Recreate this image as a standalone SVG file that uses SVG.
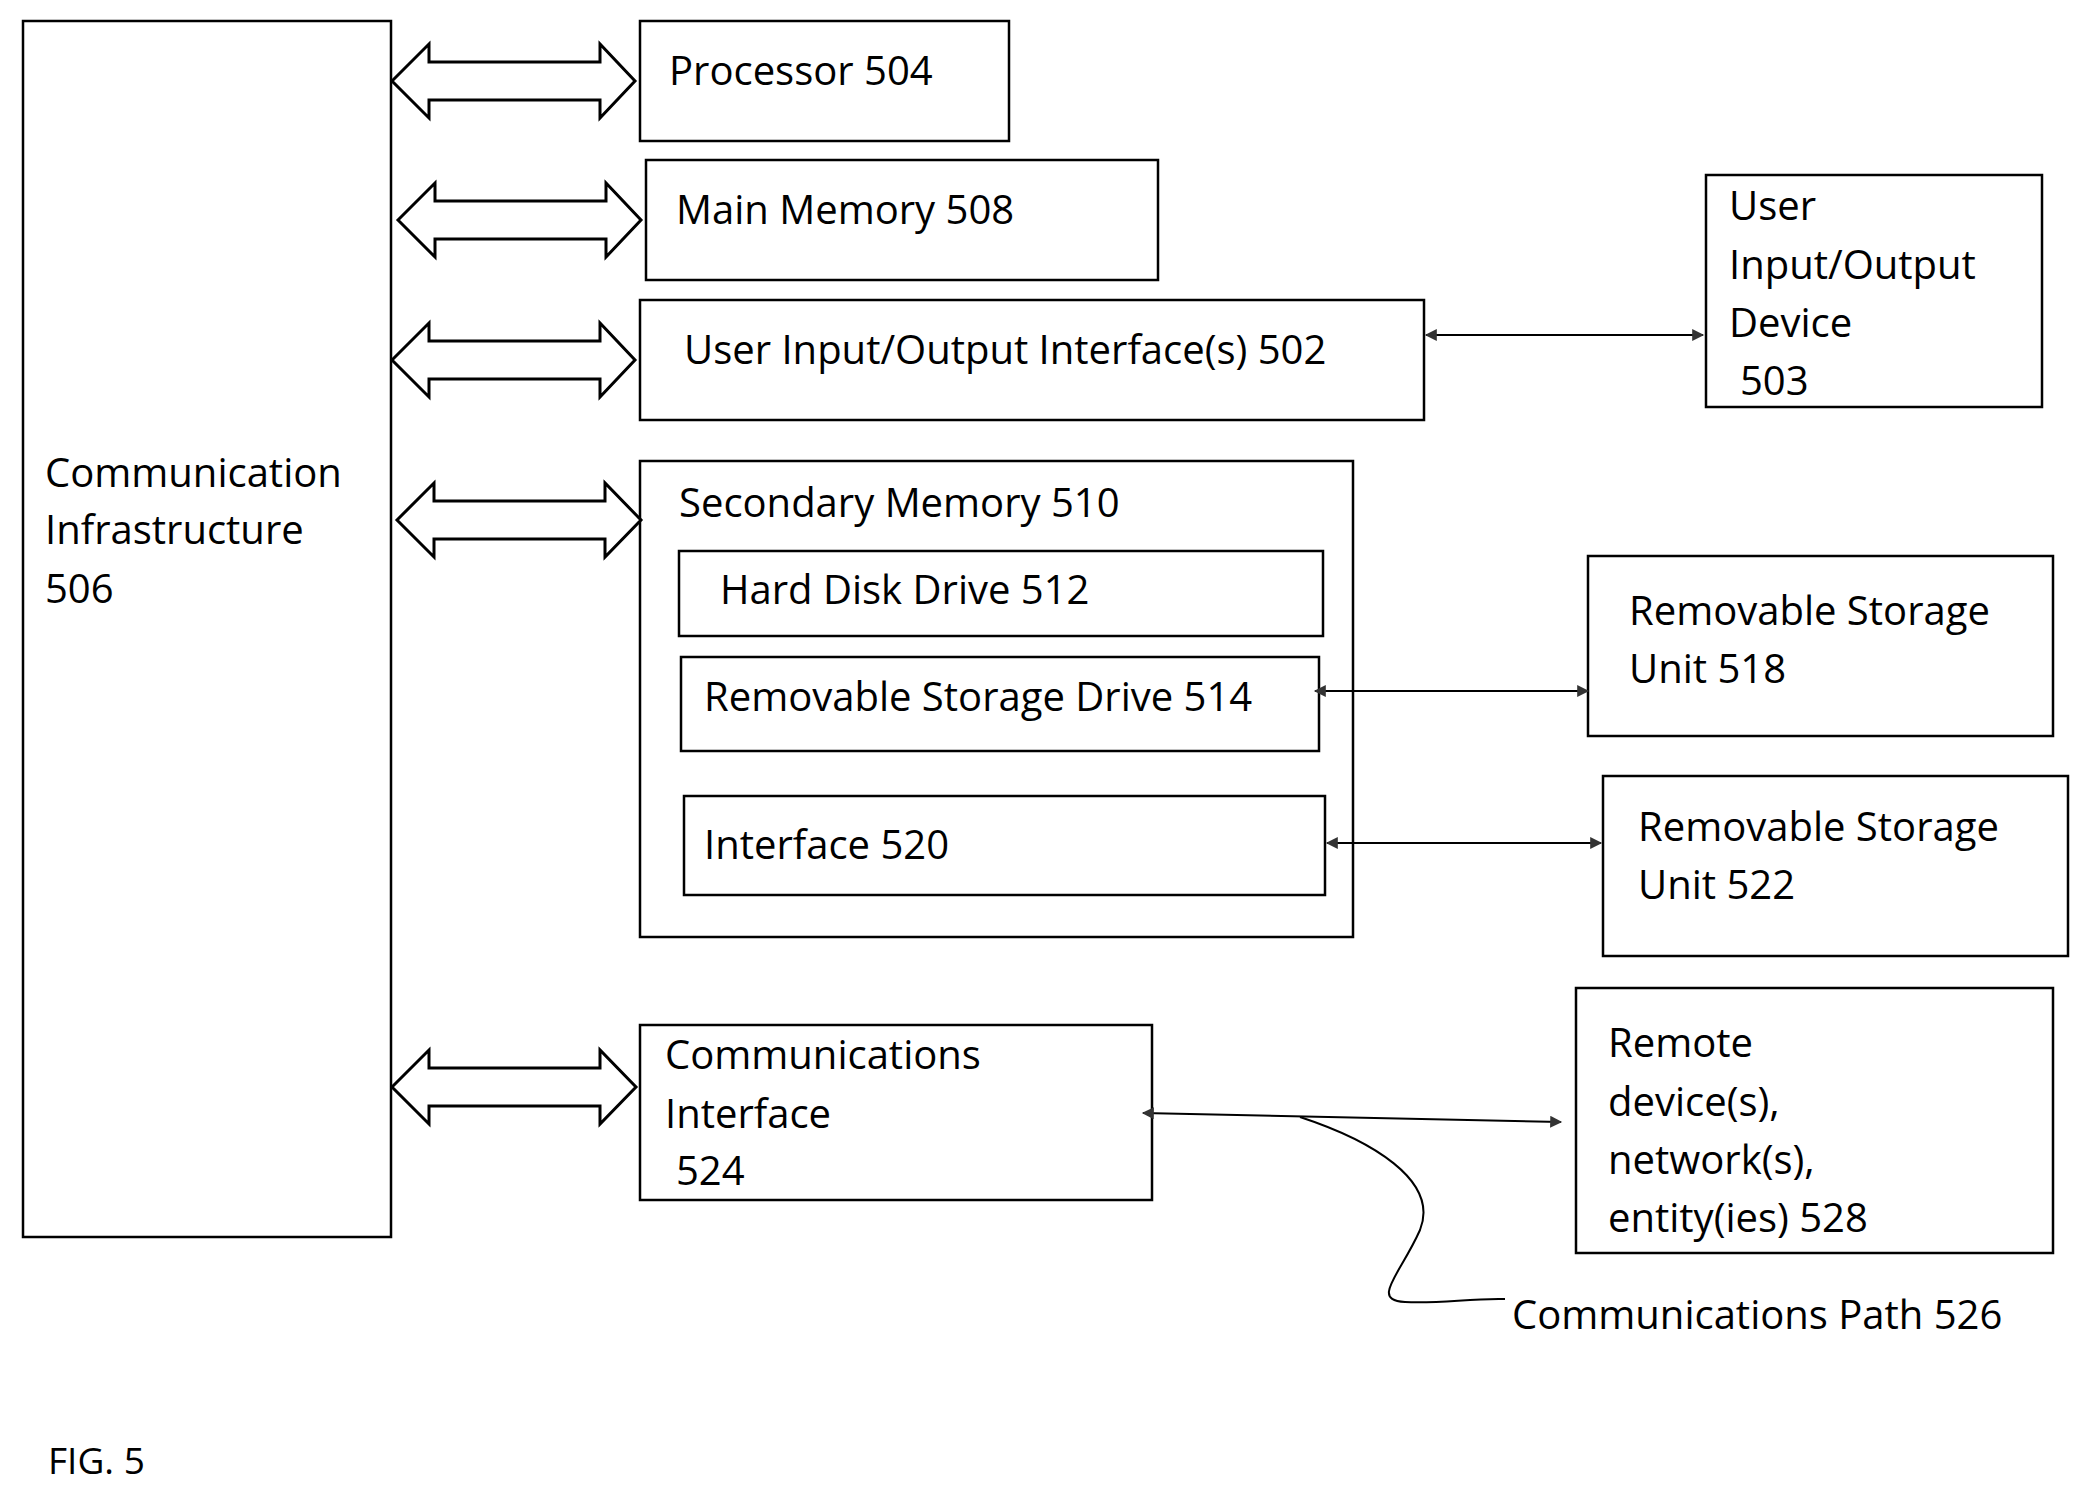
<svg xmlns="http://www.w3.org/2000/svg" width="2090" height="1495" viewBox="0 0 2090 1495">
<style>
.b{fill:#fff;stroke:#000;stroke-width:2.5}
text{font-family:"Open Sans","Liberation Sans",sans-serif;font-size:40px;fill:#000}
.ba{fill:#fff;stroke:#000;stroke-width:3}
.t{stroke:#000;stroke-width:2;fill:none}
</style>
<defs>
<marker id="ah" viewBox="0 0 10 10" refX="9" refY="5" markerWidth="14" markerHeight="12" orient="auto-start-reverse" markerUnits="userSpaceOnUse"><path d="M0,0 L10,5 L0,10 Z" fill="#333"/></marker>
</defs>
<rect width="2090" height="1495" fill="#fff"/>
<g id="n506"><rect class="b" x="23" y="21" width="368" height="1216"/><text x="45" y="487">Communication</text><text x="45" y="544">Infrastructure</text><text x="45" y="603">506</text></g>
<g id="n504"><rect class="b" x="640" y="21" width="369" height="120"/><text x="669" y="85">Processor 504</text></g>
<g id="n508"><rect class="b" x="646" y="160" width="512" height="120"/><text x="676" y="224">Main Memory 508</text></g>
<g id="n502"><rect class="b" x="640" y="300" width="784" height="120"/><text x="684" y="364">User Input/Output Interface(s) 502</text></g>
<g id="n503"><rect class="b" x="1706" y="175" width="336" height="232"/><text x="1729" y="220">User</text><text x="1729" y="279">Input/Output</text><text x="1729" y="337">Device</text><text x="1740" y="395">503</text></g>
<g id="n510"><rect class="b" x="640" y="461" width="713" height="476"/><text x="679" y="517">Secondary Memory 510</text></g>
<g id="n512"><rect class="b" x="679" y="551" width="644" height="85"/><text x="720" y="604">Hard Disk Drive 512</text></g>
<g id="n514"><rect class="b" x="681" y="657" width="638" height="94"/><text x="704" y="711">Removable Storage Drive 514</text></g>
<g id="n520"><rect class="b" x="684" y="796" width="641" height="99"/><text x="704" y="859">Interface 520</text></g>
<g id="n518"><rect class="b" x="1588" y="556" width="465" height="180"/><text x="1629" y="625">Removable Storage</text><text x="1629" y="683">Unit  518</text></g>
<g id="n522"><rect class="b" x="1603" y="776" width="465" height="180"/><text x="1638" y="841">Removable Storage</text><text x="1638" y="899">Unit  522</text></g>
<g id="n524"><rect class="b" x="640" y="1025" width="512" height="175"/><text x="665" y="1069">Communications</text><text x="665" y="1128">Interface</text><text x="676" y="1185">524</text></g>
<g id="n528"><rect class="b" x="1576" y="988" width="477" height="265"/><text x="1608" y="1057">Remote</text><text x="1608" y="1116">device(s),</text><text x="1608" y="1174">network(s),</text><text x="1608" y="1232">entity(ies) 528</text></g>
<g id="connectors">
<path class="ba" d="M392,81 L429,44 L429,62 L600,62 L600,44 L635,81 L600,118 L600,100 L429,100 L429,118 Z"/>
<path class="ba" d="M398,220 L435,183 L435,201 L606,201 L606,183 L641,220 L606,257 L606,239 L435,239 L435,257 Z"/>
<path class="ba" d="M392,360 L429,323 L429,341 L600,341 L600,323 L635,360 L600,397 L600,379 L429,379 L429,397 Z"/>
<path class="ba" d="M397,520 L434,483 L434,501 L605,501 L605,483 L641,520 L605,557 L605,539 L434,539 L434,557 Z"/>
<path class="ba" d="M392,1087 L429,1050 L429,1068 L600,1068 L600,1050 L636,1087 L600,1124 L600,1106 L429,1106 L429,1124 Z"/>
<line class="t" x1="1426" y1="335" x2="1703" y2="335" marker-start="url(#ah)" marker-end="url(#ah)"/>
<line class="t" x1="1315" y1="691" x2="1588" y2="691" marker-start="url(#ah)" marker-end="url(#ah)"/>
<line class="t" x1="1327" y1="843" x2="1601" y2="843" marker-start="url(#ah)" marker-end="url(#ah)"/>
<line class="t" x1="1143" y1="1113" x2="1561" y2="1122" marker-start="url(#ah)" marker-end="url(#ah)"/>
<path class="t" d="M1300,1117 C1370,1140 1440,1180 1420,1230 C1400,1275 1370,1300 1405,1302 C1440,1304 1470,1298 1505,1299"/>
</g>
<text x="1512" y="1329">Communications Path 526</text>
<text x="48" y="1474" style="font-size:37px">FIG. 5</text>
</svg>
